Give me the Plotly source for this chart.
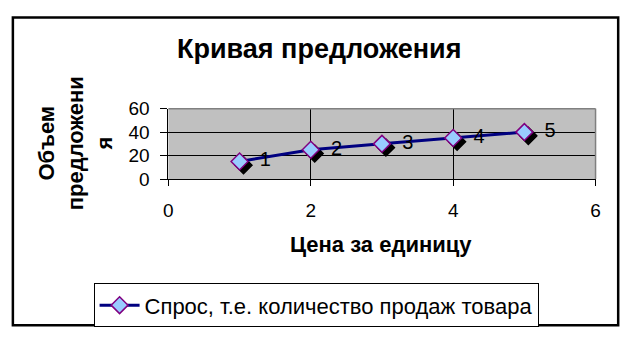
import plotly.graph_objects as go

# Data
price = [1, 2, 3, 4, 5]
volume = [15, 25, 30, 35, 40]
point_labels = ["1", "2", "3", "4", "5"]
series_name = "Спрос, т.е. количество продаж товара"
chart_title = "Кривая предложения"
x_title = "Цена за единицу"
y_title = "Объем<br>предложени<br>я"

W, H = 635, 346
FONT = "Arial, Liberation Sans, sans-serif"

# plot area in pixels
L, R, T, B = 166, 600, 105, 180
SH = 4  # shadow offset px

def px_x(p):
    return p / W

def px_y(p):
    return 1 - p / H

xdom = [px_x(L), px_x(R)]
ydom = [px_y(B), px_y(T)]
xdom2 = [px_x(L + SH), px_x(R + SH)]
ydom2 = [px_y(B + SH), px_y(T + SH)]

fig = go.Figure()

# invisible trace so the visible axes subplot is created
fig.add_trace(go.Scatter(
    x=price, y=volume, mode="markers", xaxis="x", yaxis="y",
    marker=dict(opacity=0), showlegend=False, hoverinfo="skip"))

# shadow markers
fig.add_trace(go.Scatter(
    x=price, y=volume, mode="markers", xaxis="x2", yaxis="y2",
    marker=dict(symbol="diamond", size=13, color="black", line=dict(color="black", width=1.5)),
    showlegend=False, hoverinfo="skip"))

# main series
fig.add_trace(go.Scatter(
    x=price, y=volume, mode="lines+markers+text", xaxis="x3", yaxis="y3",
    name=series_name, text=["\u00a0\u00a0" + t for t in point_labels],
    textposition="middle right",
    textfont=dict(family=FONT, size=20, color="black"),
    line=dict(color="#000080", width=3),
    marker=dict(symbol="diamond", size=13, color="#99CCFF", line=dict(color="#800080", width=1.5))))

hidden = dict(visible=False, showgrid=False, zeroline=False, fixedrange=True)

fig.update_layout(
    width=W, height=H,
    margin=dict(l=0, r=0, t=0, b=0),
    paper_bgcolor="white",
    plot_bgcolor="rgba(0,0,0,0)",
    font=dict(family=FONT, color="black"),
    xaxis=dict(domain=xdom, range=[0, 6], tickvals=[0, 2, 4, 6], showgrid=True,
               gridcolor="black", gridwidth=1, zeroline=False, showline=True,
               linecolor="black", linewidth=1, ticks="outside", ticklen=6,
               tickcolor="black", tickfont=dict(family=FONT, size=19),
               ticklabelstandoff=8, anchor="y", fixedrange=True),
    yaxis=dict(domain=ydom, range=[0, 60], tickvals=[0, 20, 40, 60], showgrid=True,
               gridcolor="black", gridwidth=1, zeroline=False, showline=True,
               linecolor="black", linewidth=1, ticks="outside", ticklen=7,
               tickcolor="black", tickfont=dict(family=FONT, size=19),
               ticklabelstandoff=7, anchor="x", fixedrange=True),
    xaxis2=dict(domain=xdom2, range=[0, 6], anchor="y2", **hidden),
    yaxis2=dict(domain=ydom2, range=[0, 60], anchor="x2", **hidden),
    xaxis3=dict(domain=xdom, range=[0, 6], anchor="y3", **hidden),
    yaxis3=dict(domain=ydom, range=[0, 60], anchor="x3", **hidden),
    showlegend=True,
    legend=dict(x=px_x(90), y=px_y(291), xanchor="left", yanchor="top",
                bgcolor="white", bordercolor="black", borderwidth=1,
                font=dict(family=FONT, size=22), itemwidth=40),
    shapes=[
        dict(type="rect", xref="x domain", yref="y domain", x0=0, x1=1, y0=0, y1=1,
             fillcolor="#C0C0C0", line=dict(width=0), layer="below"),
        dict(type="line", xref="x domain", yref="y domain", x0=0, x1=1, y0=1, y1=1,
             line=dict(color="#808080", width=1.5), layer="above"),
        dict(type="line", xref="x domain", yref="y domain", x0=1, x1=1, y0=0, y1=1,
             line=dict(color="#808080", width=1.5), layer="above"),
        dict(type="rect", xref="paper", yref="paper", x0=px_x(8), x1=px_x(623),
             y0=px_y(335.5), y1=px_y(8), line=dict(color="black", width=2.5),
             fillcolor="rgba(0,0,0,0)", layer="above"),
    ],
    annotations=[
        dict(text="<b>" + chart_title + "</b>", xref="paper", yref="paper",
             x=px_x(319), y=px_y(42), xanchor="center", yanchor="middle",
             showarrow=False, font=dict(family=FONT, size=27)),
        dict(text="<b>" + x_title + "</b>", xref="paper", yref="paper",
             x=px_x(382), y=px_y(250), xanchor="center", yanchor="middle",
             showarrow=False, font=dict(family=FONT, size=22)),
        dict(text="<b>" + y_title + "</b>", xref="paper", yref="paper",
             x=px_x(72), y=px_y(142), xanchor="center", yanchor="middle",
             textangle=-90, showarrow=False, font=dict(family=FONT, size=22)),
    ],
)

fig.write_html("out.html")
